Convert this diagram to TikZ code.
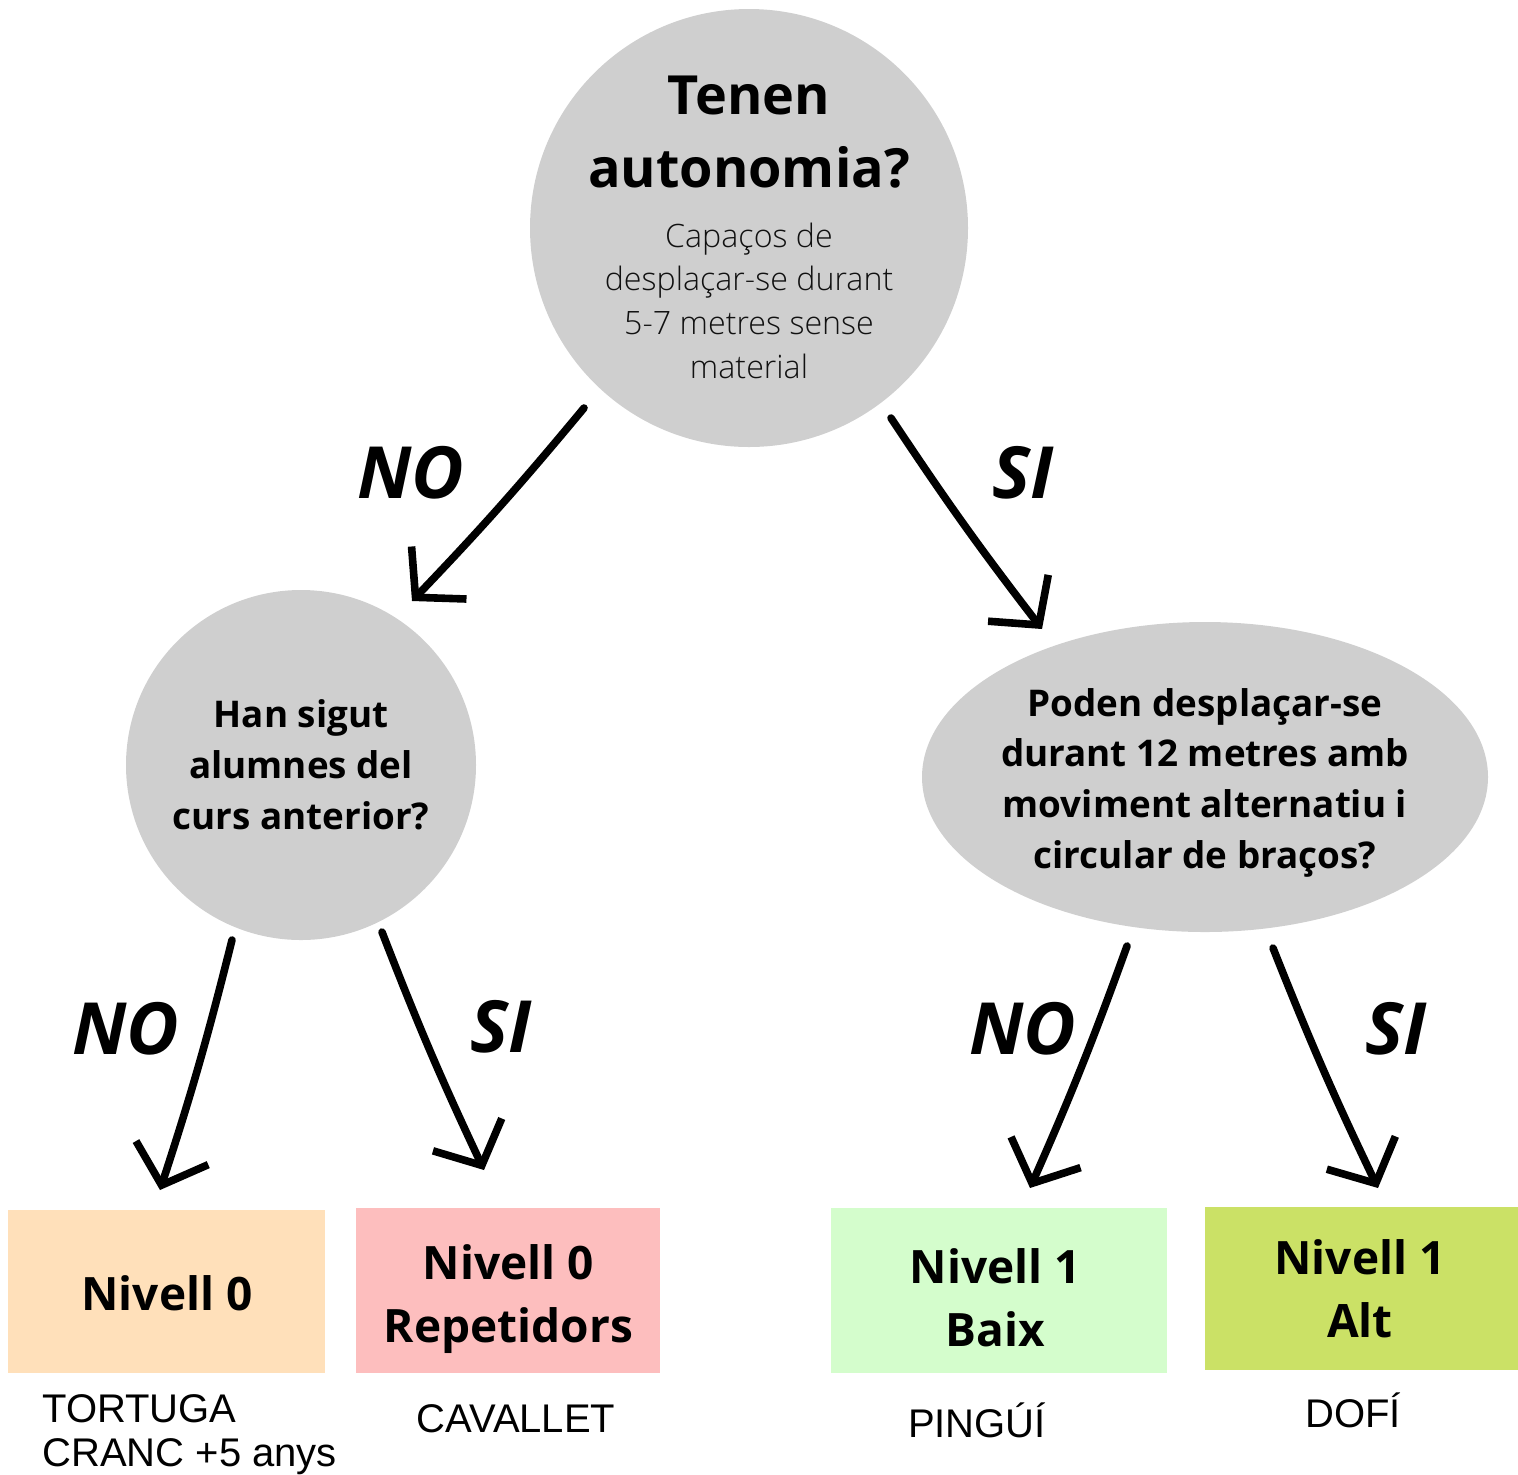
\documentclass[tikz,border=0pt]{standalone}
\usepackage{fontspec}
\setmainfont{Open Sans}
\newfontfamily\oslight{Open Sans Light}
\newfontfamily\arialf{Liberation Sans}
\usetikzlibrary{arrows.meta,shapes.geometric}
\definecolor{qgray}{HTML}{CFCFCF}
\definecolor{peach}{HTML}{FFE0BA}
\definecolor{pinkb}{HTML}{FDBEBE}
\definecolor{mint}{HTML}{D4FDCC}
\definecolor{limeb}{HTML}{CBE166}
\definecolor{lighttxt}{HTML}{111111}
\begin{document}
\begin{tikzpicture}[x=0.5pt,y=-0.5pt,
  qshape/.style={fill=qgray, inner sep=0pt},
  ttl/.style={font=\bfseries\fontsize{27}{36.5}\selectfont, align=center, inner sep=0pt},
  subtxt/.style={font=\oslight\fontsize{16.1}{21.8}\selectfont, text=lighttxt, align=center, inner sep=0pt},
  qtxt/.style={font=\bfseries\fontsize{18.4}{25.3}\selectfont, align=center, inner sep=0pt},
  lvlbox/.style={inner sep=0pt},
  lvl/.style={inner sep=0pt, align=center, anchor=base, font=\bfseries\fontsize{23}{31.3}\selectfont},
  ans/.style={font=\bfseries\itshape\fontsize{36}{40}\selectfont, inner sep=0pt, anchor=base},
  animal/.style={font=\arialf\fontsize{20}{22}\selectfont, inner sep=0pt},
  arr/.style={line width=3.8pt, line cap=round, line join=round,
    -{Straight Barb[length=17pt,width=38pt]}}
]
\useasboundingbox (0,0) rectangle (1518,1474);

% question shapes
\node[qshape, circle, minimum size=219pt] (q1) at (749,228) {};
\node[qshape, circle, minimum size=175pt] (q2) at (301,765) {};
\node[qshape, ellipse, minimum width=283pt, minimum height=155pt] (q3) at (1205,777) {};

% texts in shapes
\node[ttl, anchor=base] (q1t) at (749,187) {Tenen\\autonomia?};
\node[subtxt, anchor=base] (q1s) at (749,378) {Capaços de\\desplaçar-se durant\\5-7 metres sense\\material};
\node[qtxt, anchor=base] (q2t) at (301,829) {Han sigut\\alumnes del\\curs anterior?};
\node[qtxt, anchor=base] (q3t) at (1205,868) {Poden desplaçar-se\\durant 12 metres amb\\moviment alternatiu i\\circular de braços?};

% level boxes
\node[lvlbox, fill=peach, minimum width=158.5pt, minimum height=81.5pt] (n0) at (166.5,1291.5) {};
\node[lvlbox, fill=pinkb, minimum width=152pt, minimum height=82.5pt] (n0r) at (508,1290.5) {};
\node[lvlbox, fill=mint, minimum width=168pt, minimum height=82.5pt] (n1b) at (999,1290.5) {};
\node[lvlbox, fill=limeb, minimum width=156.5pt, minimum height=81.5pt] (n1a) at (1361.5,1288.5) {};
\node[lvl] (n0t) at (167,1310) {Nivell 0};
\node[lvl] (n0rt) at (508.5,1342) {Nivell 0\\Repetidors};
\node[lvl] (n1bt) at (995.5,1346) {Nivell 1\\Baix};
\node[lvl] (n1at) at (1360,1337) {Nivell 1\\Alt};

% animal labels
\node[animal, anchor=base west, align=left] (l0) at (42,1466) {TORTUGA\\CRANC +5 anys};
\node[animal, anchor=base] (l0r) at (516,1432) {CAVALLET};
\node[animal, anchor=base] (l1b) at (977,1437) {PINGÚÍ};
\node[animal, anchor=base] (l1a) at (1353,1427) {DOFÍ};

% answer labels
\node[ans] (no1) at (411,498) {NO};
\node[ans] (si1) at (1023,498) {SI};
\node[ans] (no2) at (126,1054) {NO};
\node[ans] (si2) at (501,1052) {SI};
\node[ans] (no3) at (1023,1054) {NO};
\node[ans] (si3) at (1396,1054) {SI};

% arrow ends
\coordinate (a1s) at (584,408);  \coordinate (a1e) at (412,601);
\coordinate (a2s) at (891,418);  \coordinate (a2e) at (1042,629);
\coordinate (a3s) at (232,940);  \coordinate (a3e) at (160,1190);
\coordinate (a4s) at (382,932);  \coordinate (a4e) at (484,1170);
\coordinate (a5s) at (1127,946); \coordinate (a5e) at (1030,1188);
\coordinate (a6s) at (1273,948); \coordinate (a6e) at (1378,1188);

\draw[arr] (a1s) to[bend left=2] (a1e);
\draw[arr] (a2s) to[bend right=2] (a2e);
\draw[arr] (a3s) to[bend left=2] (a3e);
\draw[arr] (a4s) to[bend right=2] (a4e);
\draw[arr] (a5s) to[bend left=2] (a5e);
\draw[arr] (a6s) to[bend right=2] (a6e);
\end{tikzpicture}
\end{document}
